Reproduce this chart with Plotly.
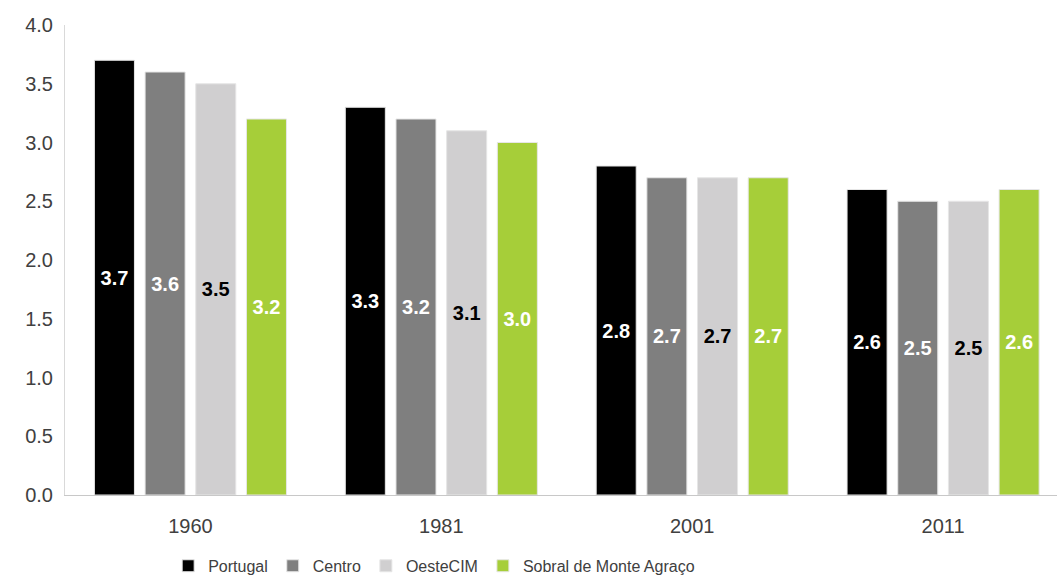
import plotly.graph_objects as go

# Average household size by census year
years = ["1960", "1981", "2001", "2011"]
portugal = [3.7, 3.3, 2.8, 2.6]
centro = [3.6, 3.2, 2.7, 2.5]
oeste_cim = [3.5, 3.1, 2.7, 2.5]
sobral = [3.2, 3.0, 2.7, 2.6]

series = [
    ("Portugal", portugal, "#000000", "#ffffff"),
    ("Centro", centro, "#7f7f7f", "#ffffff"),
    ("OesteCIM", oeste_cim, "#d0cfd0", "#000000"),
    ("Sobral de Monte Agraço", sobral, "#a6ce39", "#ffffff"),
]

FONT = "Liberation Sans, Arial, sans-serif"

fig = go.Figure()
for name, vals, color, txtcolor in series:
    fig.add_trace(go.Bar(
        x=years, y=vals, name=name,
        marker=dict(color=color, line=dict(color="#e6e6e6", width=1)),
        text=[f"{v:.1f}" for v in vals],
        textposition="inside",
        insidetextanchor="middle",
        textangle=0,
        constraintext="none",
        textfont=dict(family=FONT, size=20, color=txtcolor, weight="bold"),
    ))

fig.update_layout(
    width=1057, height=578,
    margin=dict(l=65, r=0, t=25, b=83, autoexpand=False),
    paper_bgcolor="white", plot_bgcolor="white",
    barmode="group", bargap=0.192, bargroupgap=0.21,
    font=dict(family=FONT, size=20, color="#404040"),
    showlegend=True,
    legend=dict(
        orientation="h", x=0.104, xanchor="left",
        yref="container", y=0.021, yanchor="middle",
        font=dict(family=FONT, size=16, color="#404040"),
        itemwidth=30,
    ),
    uniformtext=dict(mode=False),
)
fig.update_xaxes(
    type="category", range=[-0.5, 3.454], automargin=False,
    showline=True, linecolor="#c8c8c8", linewidth=1,
    ticks="", showgrid=False,
    ticklabelstandoff=13,
    tickfont=dict(family=FONT, size=20, color="#404040"),
)
fig.update_yaxes(
    range=[0, 4.0], dtick=0.5, tickformat=".1f", automargin=False,
    showline=True, linecolor="#d9d9d9", linewidth=1,
    showgrid=False, zeroline=False, ticks="",
    ticklabelstandoff=7,
    tickfont=dict(family=FONT, size=20, color="#404040"),
)

fig.write_html("out.html")
